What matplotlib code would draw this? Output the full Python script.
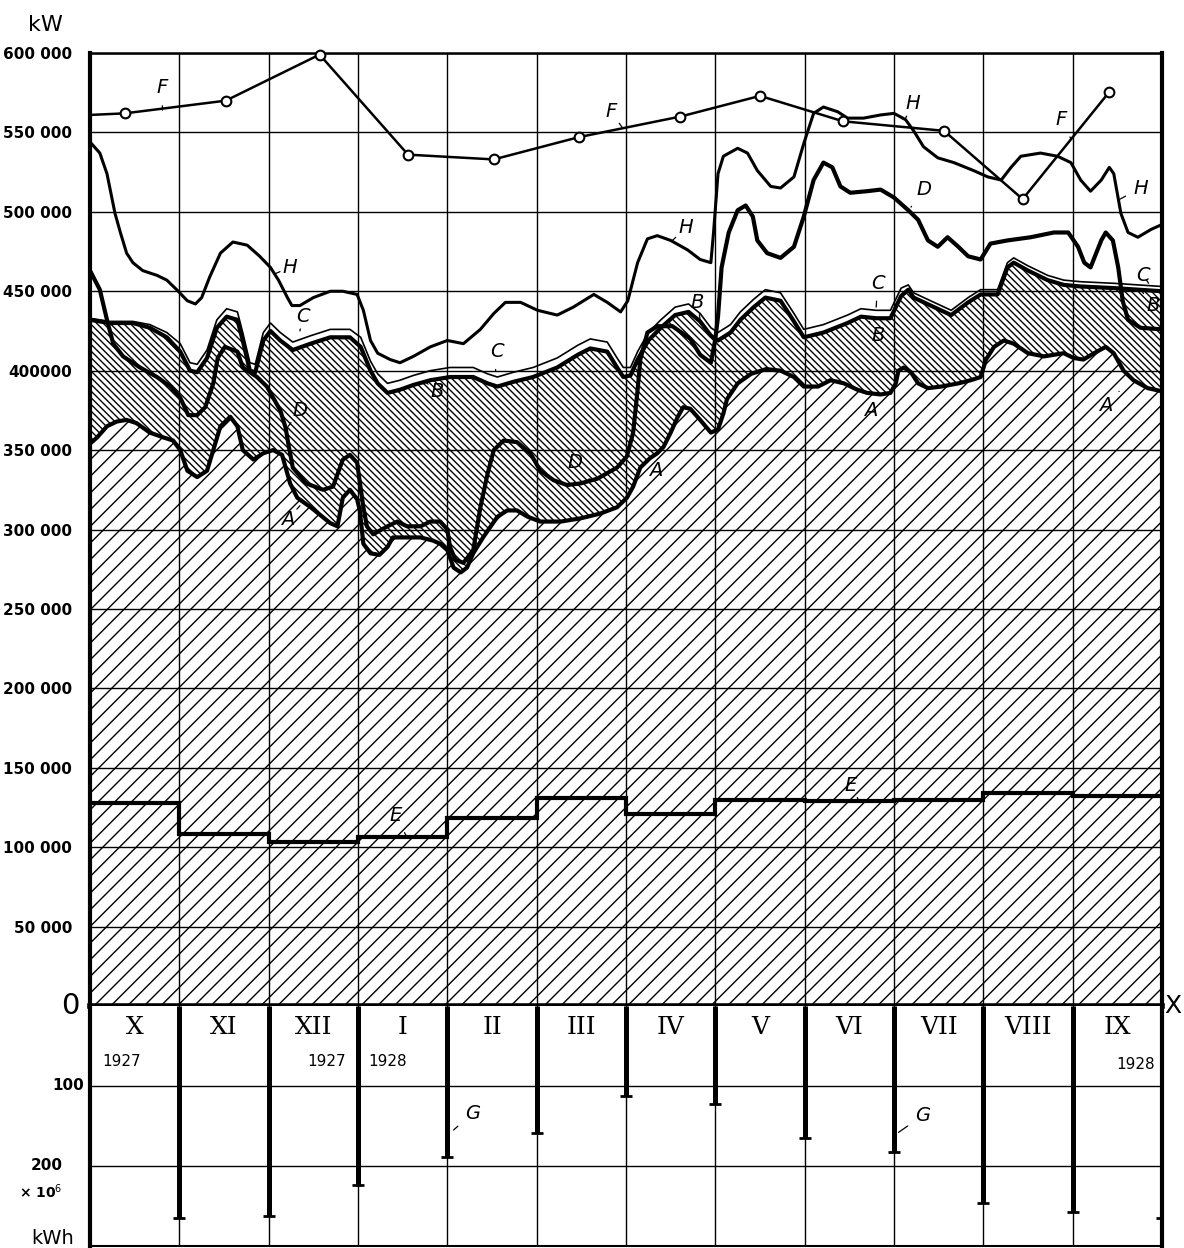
import numpy as np
import matplotlib.pyplot as plt

# axe des x en mois : 0 = debut octobre 1927, 12 = fin septembre 1928
# valeurs en milliers de kW (partie haute), en 10^6 kWh (partie basse)

mois = ['X', 'XI', 'XII', 'I', 'II', 'III', 'IV', 'V', 'VI', 'VII', 'VIII', 'IX']

# courbe A
a_x = [0.00, 0.08, 0.19, 0.30, 0.41, 0.52, 0.67, 0.82, 0.93, 1.01, 1.09, 1.20, 1.31, 1.38, 1.46,
       1.57, 1.65, 1.71, 1.83, 1.94, 2.05, 2.15, 2.24, 2.32, 2.47, 2.69, 2.77, 2.83, 2.91, 2.99,
       3.02, 3.06, 3.14, 3.24, 3.33, 3.39, 3.55, 3.70, 3.84, 3.92, 4.00, 4.07, 4.15, 4.22, 4.29,
       4.40, 4.56, 4.67, 4.78, 4.90, 5.04, 5.27, 5.49, 5.71, 5.90, 6.01, 6.08, 6.16, 6.27, 6.35,
       6.42, 6.50, 6.58, 6.64, 6.72, 6.83, 6.95, 7.03, 7.09, 7.13, 7.25, 7.40, 7.57, 7.73, 7.88,
       7.99, 8.15, 8.29, 8.44, 8.59, 8.70, 8.85, 8.96, 9.02, 9.05, 9.11, 9.19, 9.27, 9.38, 9.53,
       9.72, 9.86, 9.97, 10.03, 10.12, 10.23, 10.34, 10.50, 10.68, 10.90, 11.01, 11.12, 11.24,
       11.37, 11.46, 11.57, 11.68, 11.84, 12.00]
a_kw = [354, 358, 365, 368, 369, 367, 361, 358, 356, 350, 337, 333, 337, 350, 365,
        371, 365, 350, 344, 348, 350, 347, 329, 320, 314, 304, 302, 320, 325, 319,
        312, 291, 285, 284, 289, 295, 295, 295, 293, 291, 287, 276, 273, 276, 285,
        295, 308, 312, 312, 308, 305, 305, 307, 310, 314, 320, 327, 339, 345, 348,
        352, 361, 371, 377, 376, 369, 361, 363, 373, 382, 392, 398, 401, 400, 396,
        390, 390, 394, 392, 388, 386, 385, 386, 392, 400, 402, 399, 392, 389, 390,
        392, 394, 396, 407, 415, 419, 417, 411, 409, 411, 408, 407, 411,
        415, 411, 400, 394, 389, 387]

# courbes B et C (C juste au-dessus de B)
b_x = [0.00, 0.22, 0.48, 0.67, 0.86, 1.01, 1.12, 1.20, 1.31, 1.42, 1.53, 1.65, 1.71, 1.79, 1.85,
       1.94, 2.02, 2.13, 2.27, 2.47, 2.69, 2.91, 3.03, 3.14, 3.22, 3.33, 3.47, 3.62, 3.81, 4.03,
       4.29, 4.45, 4.56, 4.74, 4.96, 5.23, 5.46, 5.60, 5.79, 5.90, 5.97, 6.05, 6.13, 6.25, 6.39,
       6.55, 6.70, 6.83, 6.95, 7.03, 7.17, 7.28, 7.43, 7.56, 7.73, 7.88, 7.99, 8.21, 8.48, 8.63,
       8.80, 8.96, 9.08, 9.16, 9.22, 9.41, 9.64, 9.83, 9.97, 10.16, 10.27, 10.34, 10.50, 10.72,
       10.90, 11.09, 11.46, 12.00]
b_kw = [432, 430, 430, 427, 421, 412, 400, 399, 408, 427, 434, 432, 419, 400, 399,
        419, 425, 419, 413, 417, 421, 421, 415, 400, 392, 386, 388, 391, 394, 396,
        396, 392, 390, 393, 396, 402, 410, 414, 412, 402, 396, 397, 407, 419, 427,
        435, 437, 431, 422, 419, 424, 432, 440, 446, 444, 431, 421, 424, 430, 434,
        433, 433, 447, 451, 446, 441, 435, 443, 448, 448, 465, 468, 463, 457,
        454, 453, 452, 450]
c_kw = [433, 431, 431, 429, 424, 417, 405, 404, 413, 432, 439, 437, 424, 405, 404,
        424, 430, 424, 418, 422, 426, 426, 421, 406, 398, 392, 394, 397, 400, 402,
        402, 398, 396, 399, 402, 408, 416, 420, 418, 408, 402, 402, 412, 424, 432,
        440, 442, 436, 427, 424, 429, 437, 445, 451, 449, 436, 426, 429, 435, 439,
        438, 438, 452, 454, 449, 444, 438, 446, 451, 451, 468, 471, 466, 460,
        457, 456, 455, 453]

# courbe D
d_x = [0.00, 0.11, 0.19, 0.26, 0.37, 0.56, 0.75, 0.90, 1.01, 1.10, 1.20, 1.29, 1.38, 1.43, 1.51,
       1.65, 1.71, 1.79, 1.87, 1.98, 2.05, 2.13, 2.19, 2.22, 2.27, 2.42, 2.61, 2.72, 2.83, 2.91,
       2.99, 3.06, 3.10, 3.17, 3.33, 3.44, 3.55, 3.70, 3.81, 3.92, 4.00, 4.03, 4.09, 4.18, 4.29,
       4.37, 4.45, 4.52, 4.63, 4.78, 4.93, 5.04, 5.19, 5.34, 5.49, 5.68, 5.90, 6.01, 6.08, 6.13,
       6.16, 6.24, 6.35, 6.52, 6.72, 6.83, 6.95, 7.00, 7.03, 7.07, 7.15, 7.25, 7.34, 7.42, 7.47,
       7.58, 7.73, 7.88, 7.99, 8.10, 8.21, 8.31, 8.40, 8.51, 8.70, 8.85, 9.00, 9.16, 9.27, 9.38,
       9.49, 9.60, 9.72, 9.83, 9.97, 10.08, 10.27, 10.53, 10.79, 10.95, 11.06, 11.13, 11.20,
       11.32, 11.37, 11.45, 11.51, 11.56, 11.62, 11.76, 12.00]
d_kw = [463, 451, 432, 417, 409, 402, 396, 390, 383, 372, 372, 377, 392, 408, 415,
        412, 402, 399, 396, 390, 383, 375, 364, 354, 339, 329, 325, 327, 344, 347,
        342, 314, 302, 297, 302, 305, 302, 302, 305, 305, 300, 289, 281, 279, 287,
        314, 335, 350, 356, 355, 348, 337, 331, 328, 329, 332, 339, 346, 361, 388,
        407, 424, 428, 428, 420, 410, 405, 420, 434, 465, 487, 501, 504, 497, 482,
        474, 471, 478, 497, 520, 531, 528, 516, 512, 513, 514, 509, 501, 495, 482,
        478, 484, 478, 472, 470, 480, 482, 484, 487, 487, 478, 468, 465,
        482, 487, 482, 465, 444, 432, 427, 426]

# courbe H
h_x = [0.00, 0.11, 0.19, 0.28, 0.34, 0.41, 0.48, 0.59, 0.75, 0.86, 0.97, 1.09, 1.18, 1.25, 1.34,
       1.46, 1.60, 1.76, 1.90, 2.02, 2.11, 2.21, 2.26, 2.35, 2.50, 2.69, 2.83, 2.99, 3.06, 3.14,
       3.22, 3.36, 3.47, 3.62, 3.81, 4.00, 4.18, 4.37, 4.52, 4.65, 4.82, 5.01, 5.23, 5.41, 5.64,
       5.79, 5.94, 6.02, 6.13, 6.24, 6.35, 6.50, 6.69, 6.83, 6.95, 6.98, 7.03, 7.09, 7.25, 7.36,
       7.47, 7.62, 7.73, 7.88, 7.99, 8.10, 8.21, 8.37, 8.48, 8.66, 8.85, 9.00, 9.13, 9.22, 9.33,
       9.49, 9.67, 9.89, 10.05, 10.20, 10.31, 10.42, 10.64, 10.83, 10.98, 11.09, 11.20, 11.32,
       11.41, 11.46, 11.54, 11.62, 11.73, 11.88, 12.00]
h_kw = [544, 537, 524, 499, 487, 474, 468, 463, 460, 457, 451, 444, 442, 446, 459,
        474, 481, 479, 472, 465, 457, 446, 441, 441, 446, 450, 450, 448, 438, 419,
        411, 407, 405, 409, 415, 419, 417, 426, 436, 443, 443, 438, 435, 440, 448,
        443, 437, 444, 468, 483, 485, 482, 476, 470, 468, 487, 524, 535, 540, 537,
        526, 516, 515, 522, 543, 562, 566, 563, 559, 559, 561, 562, 558, 551, 541,
        534, 531, 526, 522, 520, 528, 535, 537, 535, 531, 520, 513, 520,
        528, 524, 499, 487, 484, 489, 492]

# courbe F (points mensuels)
f_x = [0.00, 0.39, 1.52, 2.57, 3.56, 4.52, 5.47, 6.61, 7.50, 8.43, 9.56, 10.44, 11.41]
f_kw = [561, 562, 570, 599, 536, 533, 547, 560, 573, 557, 551, 508, 575.5]

# courbe E (moyenne mensuelle)
e_kw = [127.5, 108.3, 103.3, 106.4, 118.4, 131, 121, 129.7, 129, 130, 134, 132.5]

# barres G (10^6 kWh) a la fin de chaque mois
g_x = [1, 2, 3, 4, 5, 6, 7, 8, 9, 10, 11, 12]
g_kwh = [265, 262, 224, 189, 159, 112.5, 122, 165, 182, 246, 257, 265]

y_ticks = [50, 100, 150, 200, 250, 300, 350, 400, 450, 500, 550, 600]
y_labels = ['50 000', '100 000', '150 000', '200 000', '250 000', '300 000', '350 000',
            '400000', '450 000', '500 000', '550 000', '600 000']

plt.rcParams['hatch.linewidth'] = 1.0

fig = plt.figure(figsize=(11.84, 12.48), dpi=100)
ax = fig.add_axes([90/1184, 1 - 1006/1248, 1072/1184, 953/1248])
ax2 = fig.add_axes([90/1184, 1 - 1246/1248, 1072/1184, 240/1248])

# zones hachurees
ax.fill_between(a_x, 0, a_kw, facecolor='white', edgecolor='black', hatch='//', linewidth=0, zorder=1)
ax.fill(np.r_[a_x, b_x[::-1]], np.r_[a_kw, b_kw[::-1]], facecolor='white', edgecolor='black',
        hatch='\\\\\\\\\\', linewidth=0, zorder=1)

# courbes
ax.plot(a_x, a_kw, color='black', lw=3, zorder=4)
ax.plot(b_x, b_kw, color='black', lw=3, zorder=4)
ax.plot(b_x, c_kw, color='black', lw=1.2, zorder=4)
ax.plot(d_x, d_kw, color='black', lw=3, zorder=4)
ax.plot(h_x, h_kw, color='black', lw=2.2, zorder=4)
ax.plot(f_x, f_kw, color='black', lw=1.8, zorder=5, marker='o', ms=7, mfc='white', mew=1.5,
        markevery=list(range(1, len(f_x))), clip_on=False)
ax.stairs(e_kw, np.arange(13), color='black', lw=3, zorder=4, baseline=None)

ax.set_xlim(0, 12)
ax.set_ylim(0, 600)
ax.set_xticks(range(13))
ax.set_xticklabels([])
ax.set_yticks(y_ticks)
ax.set_yticklabels(y_labels, fontsize=11, fontweight='bold')
ax.tick_params(length=0, pad=13)
ax.grid(True, color='black', lw=1.0)
ax.set_axisbelow(False)
for s in ['left', 'right']:
    ax.spines[s].set_linewidth(3)
ax.spines['top'].set_linewidth(1.8)
ax.spines['bottom'].set_linewidth(4)
ax.spines['bottom'].set_zorder(6)

ax.text(-0.12, 0, '0', ha='right', va='center', fontsize=21)
ax.text(12.03, 0, 'X', ha='left', va='center', fontsize=18)
fig.text(45/1184, 1 - 25/1248, 'kW', ha='center', va='center', fontsize=16)

# partie basse : energie mensuelle
ax2.vlines(g_x, 0, g_kwh, color='black', lw=3.6, zorder=4)
ax2.plot(g_x, g_kwh, ls='none', marker='_', ms=9, mew=2, color='black', zorder=4)
ax2.set_xlim(0, 12)
ax2.set_ylim(300, 0)
ax2.set_xticks(range(13))
ax2.set_xticklabels([])
ax2.set_yticks([100, 200])
ax2.set_yticklabels([])
ax2.tick_params(length=0)
ax2.grid(True, color='black', lw=1.0)
ax2.spines['top'].set_visible(False)
for s in ['left', 'right']:
    ax2.spines[s].set_linewidth(3)
ax2.spines['bottom'].set_linewidth(1.5)

ax2.text(-0.07, 100, '100', ha='right', va='center', fontsize=11, fontweight='bold')
ax2.text(-0.3, 200, '200', ha='right', va='center', fontsize=11, fontweight='bold')
ax2.text(-0.55, 232, '× 10$^6$', ha='center', va='center', fontsize=10, fontweight='bold')
ax2.text(-0.42, 290, 'kWh', ha='center', va='center', fontsize=14)

for i, m in enumerate(mois):
    ax2.text(i + 0.5, 27, m, ha='center', va='center', fontsize=18, family='DejaVu Serif')
ax2.text(0.35, 70, '1927', ha='center', va='center', fontsize=11)
ax2.text(2.65, 70, '1927', ha='center', va='center', fontsize=11)
ax2.text(3.33, 70, '1928', ha='center', va='center', fontsize=11)
ax2.text(11.7, 73, '1928', ha='center', va='center', fontsize=11)

# reperes des courbes
lab = dict(fontsize=14, style='italic', ha='center', va='center')
arr = dict(arrowstyle='-', lw=0.9, shrinkA=4, shrinkB=0, color='black')
reperes = [
    ('F', 0.81, 578, 0.81, 564), ('F', 5.83, 563, 5.96, 553), ('F', 10.87, 558, 10.98, 546),
    ('H', 2.24, 465, 2.07, 461), ('H', 6.67, 490, 6.52, 482), ('H', 9.21, 568, 9.13, 559),
    ('H', 11.76, 515, 11.53, 508),
    ('C', 2.38, 434, 2.35, 425), ('C', 4.56, 412, 4.54, 400), ('C', 8.82, 455, 8.80, 440),
    ('C', 11.79, 460, 11.85, 455),
    ('B', 3.89, 387, 3.75, 393), ('B', 6.80, 443, 6.83, 432), ('B', 8.82, 422, 8.72, 431),
    ('B', 11.90, 441, 11.76, 451),
    ('D', 2.35, 375, 2.22, 365), ('D', 5.43, 342, 5.60, 331), ('D', 9.34, 514, 9.19, 503),
    ('A', 2.21, 306, 2.35, 315), ('A', 6.33, 337, 6.22, 344), ('A', 8.74, 375, 8.65, 387),
    ('A', 11.37, 378, 11.52, 387),
    ('E', 3.42, 120, 3.55, 106), ('E', 8.52, 139, 8.60, 130),
]
for t, xt, yt, xp, yp in reperes:
    ax.annotate(t, xy=(xp, yp), xytext=(xt, yt), arrowprops=arr, zorder=6, **lab)
ax2.annotate('G', xy=(4.07, 155), xytext=(4.28, 134), arrowprops=arr, **lab)
ax2.annotate('G', xy=(9.05, 158), xytext=(9.32, 137), arrowprops=arr, **lab)

fig.savefig('out.png', dpi=100, facecolor='white')
